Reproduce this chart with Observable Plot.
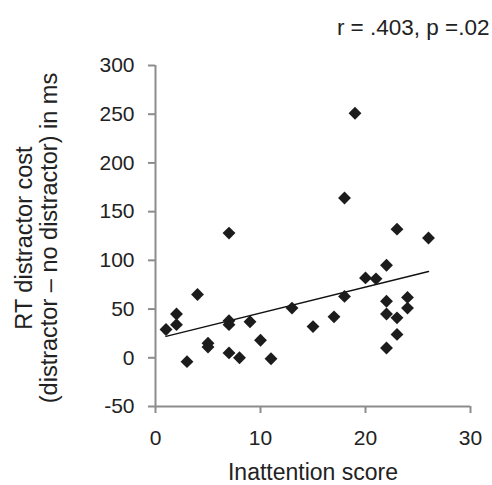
<!DOCTYPE html>
<html>
<head>
<meta charset="utf-8">
<script src="https://cdn.jsdelivr.net/npm/d3@7"></script>
<script src="https://cdn.jsdelivr.net/npm/@observablehq/plot@0.6"></script>
<style>
  html, body { margin: 0; padding: 0; background: #fff; }
  #chart svg { display: block; }
</style>
</head>
<body>
<div id="chart"></div>
<script>
// Inattention score (x) and RT distractor cost in ms (y)
const inattention = [1, 2, 2, 3, 4, 5, 5, 7, 7, 7, 7, 8, 9, 10, 11, 13, 15, 17, 18, 18, 19, 20, 21, 22, 22, 22, 22, 23, 23, 23, 24, 24, 26];
const rtCost      = [29, 45, 34, -4, 65, 15, 11, 128, 38, 34, 5, 0, 37, 18, -1, 51, 32, 42, 164, 63, 251, 82, 81, 95, 58, 45, 10, 132, 41, 24, 62, 51, 123];

const xTicks = [0, 10, 20, 30];
const yTicks = [-50, 0, 50, 100, 150, 200, 250, 300];

const titleText = "r = .403, p =.02";
const xTitle = "Inattention score";
const yTitle = "RT distractor cost\n(distractor \u2013 no distractor) in ms";

const data = inattention.map((x, i) => ({x, y: rtCost[i]}));

const axisGray = "#8c8c8c";
const textColor = "#222";

const chart = Plot.plot({
  width: 492,
  height: 485,
  marginLeft: 155,
  marginRight: 22,
  marginTop: 65,
  marginBottom: 79,
  style: {fontFamily: "'Liberation Sans', Arial, sans-serif", background: "#fff"},
  x: {domain: [0, 30]},
  y: {domain: [-50, 300]},
  marks: [
    Plot.axisX({ticks: xTicks, tickFormat: d => String(d), tickSize: 7, tickPadding: 17, stroke: axisGray, strokeWidth: 2, fill: textColor, fontSize: 21, label: null}),
    Plot.axisY({ticks: yTicks, tickFormat: d => String(d), tickSize: 7, tickPadding: 14, stroke: axisGray, strokeWidth: 2, fill: textColor, fontSize: 21, label: null}),
    Plot.ruleX([0], {stroke: axisGray, strokeWidth: 2}),
    Plot.ruleY([-50], {stroke: axisGray, strokeWidth: 2}),
    Plot.linearRegressionY(data, {x: "x", y: "y", ci: 0, stroke: "#111", strokeWidth: 1.5}),
    Plot.dot(data, {x: "x", y: "y", symbol: "diamond2", r: 5.8, fill: "#1c1c1c", stroke: "none"}),
    Plot.text([titleText], {frameAnchor: "top-right", textAnchor: "end", lineAnchor: "bottom", dx: 19, dy: -31, fontSize: 22.5, fill: textColor}),
    Plot.text([xTitle], {frameAnchor: "bottom", lineAnchor: "bottom", dy: 73, fontSize: 23, fill: textColor}),
    Plot.text([yTitle], {frameAnchor: "left", rotate: -90, lineAnchor: "middle", textAnchor: "middle", dx: -119, dy: 2, fontSize: 23.5, lineHeight: 1.05, fill: textColor})
  ]
});
document.getElementById("chart").appendChild(chart);
</script>
</body>
</html>
